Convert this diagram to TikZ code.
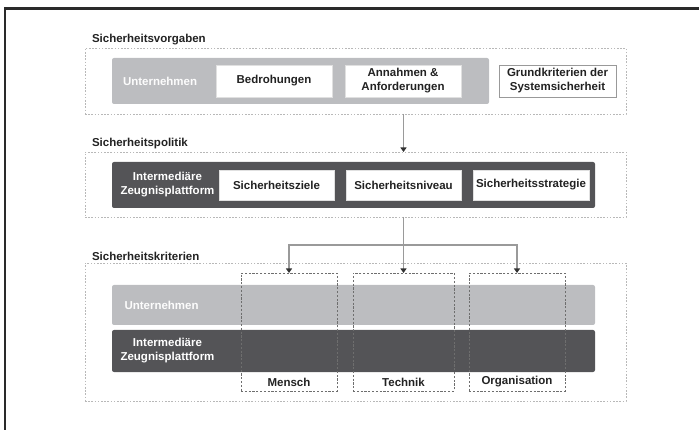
\documentclass[tikz,border=0pt]{standalone}
\usepackage{fontspec}
\setmainfont{Liberation Sans}
\usetikzlibrary{arrows.meta}
\definecolor{lightbar}{HTML}{BCBDC0}
\definecolor{darkbar}{HTML}{545457}
\definecolor{secline}{HTML}{B8B8B8}
\definecolor{colline}{HTML}{6E6E6E}
\definecolor{arrowline}{HTML}{9A9A9A}
\definecolor{txt}{HTML}{222222}
\definecolor{frameline}{HTML}{2A2A2A}
\begin{document}
\begin{tikzpicture}[x=1pt,y=-1pt,
  font=\fontsize{11.5}{14}\selectfont\bfseries,
  every node/.style={inner sep=0pt, outer sep=0pt},
  sectionbox/.style={draw=secline, line width=0.8pt, dash pattern=on 1.6pt off 1.6pt, anchor=north west, minimum width=541pt},
  seclabel/.style={anchor=west, text=txt},
  lightbarbox/.style={fill=lightbar, rounded corners=2pt, anchor=north west},
  darkbarbox/.style={fill=darkbar, rounded corners=2pt, anchor=north west},
  whitebox/.style={fill=white, draw=white!88!black, line width=0.6pt, anchor=north west, text=txt, align=center},
  colbox/.style={draw=colline, line width=0.7pt, dash pattern=on 2.2pt off 1.6pt, anchor=north west, minimum height=118pt},
  bartext/.style={text=white, align=center},
  conn/.style={draw=arrowline, line width=1.6pt, -{Triangle[width=6pt,length=4.5pt,color=black!80]}},
  connline/.style={draw=arrowline, line width=1.6pt}
]
\useasboundingbox (0,0) rectangle (699,430);
% frame (top and left only)
\coordinate (ftl) at (5,8.5);
\coordinate (ftr) at (699,8.5);
\coordinate (fbl) at (5,430);
\draw[frameline, line width=2.6pt] (ftr) -- (ftl) -- (fbl);

% ---------- Section 1
\node[seclabel] (lab1) at (92,39.5) {Sicherheitsvorgaben};
\node[sectionbox, minimum height=66pt] (sec1) at (85,48) {};
\node[lightbarbox, minimum width=377pt, minimum height=46pt] (bar1) at (112,58) {};
\node[anchor=west, text=white!95!lightbar] (unt1) at (123,81) {Unternehmen};
\node[whitebox, minimum width=116pt, minimum height=32pt] (bed) at (216,65) {Bedrohungen};
\node[whitebox, minimum width=116pt, minimum height=32pt] (ann) at (345,65) {Annahmen \&\\Anforderungen};
\node[whitebox, draw=black!40, line width=0.9pt, minimum width=117pt, minimum height=32pt] (grund) at (499,65) {Grundkriterien der\\Systemsicherheit};

% ---------- Section 2
\node[seclabel] (lab2) at (92,143.5) {Sicherheitspolitik};
\node[sectionbox, minimum height=65pt] (sec2) at (85,152) {};
\node[darkbarbox, minimum width=483pt, minimum height=46pt] (bar2) at (112,162) {};
\node[bartext] (izp2) at (167.5,185) {Intermedi\"are\\Zeugnisplattform};
\node[whitebox, minimum width=115pt, minimum height=30pt] (ziele) at (219,170) {Sicherheitsziele};
\node[whitebox, minimum width=115pt, minimum height=30pt] (niveau) at (346,170) {Sicherheitsniveau};
\node[whitebox, minimum width=116pt, minimum height=30pt] (strat) at (473,170) {Sicherheitsstrategie};

% ---------- Section 3
\node[seclabel] (lab3) at (92,256) {Sicherheitskriterien};
\node[sectionbox, minimum height=138pt] (sec3) at (85,263) {};
\node[lightbarbox, minimum width=483pt, minimum height=40pt] (bar3a) at (112,285) {};
\node[anchor=west, text=white!95!lightbar] (unt3) at (124.5,305) {Unternehmen};
\node[darkbarbox, minimum width=483pt, minimum height=42pt] (bar3b) at (112,330) {};
\node[bartext] (izp3) at (167.5,351) {Intermedi\"are\\Zeugnisplattform};

\node[colbox, minimum width=96pt] (mensch) at (241,273) {};
\node[colbox, minimum width=101pt] (technik) at (353,273) {};
\node[colbox, minimum width=96pt] (org) at (469,273) {};
\node[text=txt] (lmensch) at (289,382) {Mensch};
\node[text=txt] (ltechnik) at (403.5,382) {Technik};
\node[text=txt] (lorg) at (517,382) {Organisation};

% ---------- connectors
\draw[conn] (sec1.south -| technik.north) -- (sec2.north -| technik.north);
\draw[conn] (sec2.south -| technik.north) -- (technik.north);
\coordinate (split) at (403.5,245);
\draw[conn] (split) -| (mensch.north);
\draw[conn] (split) -| (org.north);
\end{tikzpicture}
\end{document}
